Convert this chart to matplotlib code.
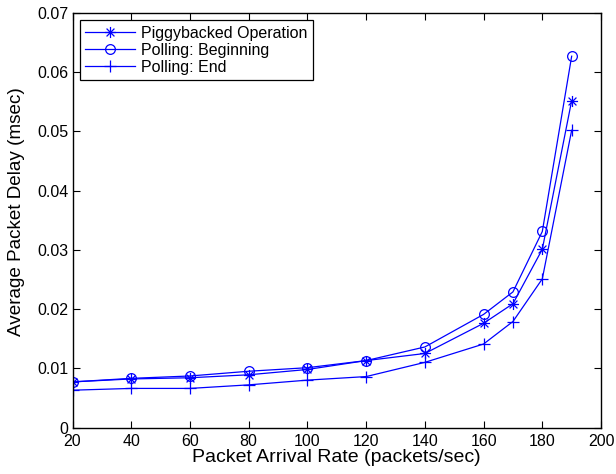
import numpy as np
import matplotlib
matplotlib.use("Agg")
import matplotlib.pyplot as plt
from matplotlib.path import Path

plt.rcParams['font.family'] = ['Liberation Sans', 'DejaVu Sans']

rate = [20, 40, 60, 80, 100, 120, 140, 160, 170, 180, 190]
piggyback = [0.0077, 0.0082, 0.0084, 0.0089, 0.0098, 0.0113, 0.0125, 0.0176, 0.0209, 0.0301, 0.0552]
poll_begin = [0.0077, 0.0083, 0.0087, 0.0095, 0.0101, 0.0113, 0.0136, 0.0191, 0.0229, 0.0331, 0.0627]
poll_end = [0.0063, 0.0066, 0.0066, 0.0072, 0.0080, 0.0086, 0.0110, 0.0141, 0.0179, 0.0251, 0.0502]

# matlab style asterisk: plus and cross on top of each other
d = 0.7071
star_verts = [(-1, 0), (1, 0), (0, -1), (0, 1), (-d, -d), (d, d), (-d, d), (d, -d)]
star_codes = [Path.MOVETO, Path.LINETO] * 4
star = Path(star_verts, star_codes)

fig = plt.figure(figsize=(6.16, 4.74), dpi=100)
ax = fig.add_axes([0.1177, 0.0981, 0.858, 0.8745])

blue = '#0000ff'
ax.plot(rate, piggyback, color=blue, lw=0.9, marker=star, ms=8, mew=0.9, mfc='none', label='Piggybacked Operation')
ax.plot(rate, poll_begin, color=blue, lw=0.9, marker='o', ms=7, mew=0.9, mfc='none', label='Polling: Beginning')
ax.plot(rate, poll_end, color=blue, lw=0.9, marker='+', ms=8, mew=0.9, label='Polling: End')

ax.set_xlim(20, 200)
ax.set_ylim(0, 0.07)
ax.set_xticks(np.arange(20, 201, 20))
ax.set_yticks(np.arange(0, 0.071, 0.01))
ax.set_yticklabels(['0', '0.01', '0.02', '0.03', '0.04', '0.05', '0.06', '0.07'])
ax.tick_params(direction='in', top=True, right=True, labelsize=11.5, length=5, pad=3)
ax.tick_params(axis='x', pad=5)
for s in ax.spines.values():
    s.set_linewidth(1.0)
ax.set_xlabel('Packet Arrival Rate (packets/sec)', fontsize=14, labelpad=0)
ax.set_ylabel('Average Packet Delay (msec)', fontsize=13.6)
ax.yaxis.set_label_coords(-0.09, 0.521)

leg = ax.legend(loc='upper left', fontsize=11.5, fancybox=False, framealpha=1,
                edgecolor='black', borderaxespad=0.45, handlelength=3.1,
                handletextpad=0.4, labelspacing=0.12, borderpad=0.35)
leg.get_frame().set_linewidth(0.9)

fig.savefig('out.png', dpi=100)
